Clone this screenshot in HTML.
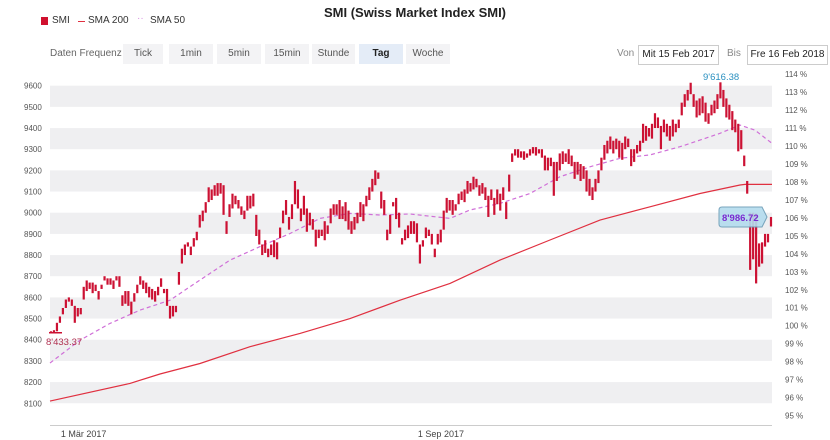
<!DOCTYPE html>
<html><head><meta charset="utf-8">
<style>
body{margin:0;width:830px;height:440px;background:#fff;font-family:"Liberation Sans",sans-serif;overflow:hidden;position:relative}
.t{position:absolute;white-space:nowrap}
.btn{position:absolute;top:44px;height:20px;line-height:20px;background:#f3f3f5;color:#555;font-size:10px;text-align:center}
.box{position:absolute;top:45px;height:18px;line-height:18px;border:1px solid #ccc;font-size:10px;color:#222;text-align:center;background:#fff}
</style></head><body>
<div class="t" style="left:0;width:830px;text-align:center;top:5px;font-size:13px;font-weight:bold;color:#222">SMI (Swiss Market Index SMI)</div>
<div style="position:absolute;left:0;top:0;width:200px;height:30px">
<div style="position:absolute;left:41px;top:17px;width:7px;height:8px;background:#d0102e"></div>
<div class="t" style="left:52px;top:15px;font-size:10px;color:#333">SMI</div>
<div style="position:absolute;left:78px;top:21px;width:7px;height:1px;background:#e03040"></div>
<div class="t" style="left:88px;top:15px;font-size:10px;color:#333">SMA 200</div>
<div class="t" style="left:137px;top:13px;font-size:10px;color:#d890e0">··</div>
<div class="t" style="left:150px;top:15px;font-size:10px;color:#333">SMA 50</div>
</div>
<div class="t" style="left:50px;top:48px;font-size:10px;color:#666">Daten Frequenz</div>
<div class="btn" style="left:123px;width:40px">Tick</div>
<div class="btn" style="left:169px;width:44px">1min</div>
<div class="btn" style="left:217px;width:44px">5min</div>
<div class="btn" style="left:265px;width:44px">15min</div>
<div class="btn" style="left:312px;width:43px">Stunde</div>
<div class="btn" style="left:359px;width:44px;background:#e4ecf7;color:#222;font-weight:bold">Tag</div>
<div class="btn" style="left:406px;width:44px">Woche</div>
<div class="t" style="left:617px;top:48px;font-size:10px;color:#888">Von</div>
<div class="box" style="left:638px;width:79px">Mit 15 Feb 2017</div>
<div class="t" style="left:727px;top:48px;font-size:10px;color:#888">Bis</div>
<div class="box" style="left:747px;width:79px">Fre 16 Feb 2018</div>
<svg id="c" width="830" height="440" style="position:absolute;left:0;top:0" xmlns="http://www.w3.org/2000/svg"></svg>
<script>
const leftTicks=[8100,8200,8300,8400,8500,8600,8700,8800,8900,9000,9100,9200,9300,9400,9500,9600];
const pctTicks=[95,96,97,98,99,100,101,102,103,104,105,106,107,108,109,110,111,112,113,114];
const xLabels=["1 Mär 2017","1 Sep 2017"];
const xLabelIdx=[4,124];
const lows=[8433,8433,8440,8480,8520,8550,8580,8560,8480,8510,8520,8590,8630,8640,8620,8630,8590,8640,8680,8660,8660,8640,8680,8650,8560,8570,8560,8520,8580,8620,8660,8640,8620,8600,8590,8580,8610,8650,8620,8560,8500,8510,8530,8660,8760,8800,8840,8800,8840,8870,8930,8960,9000,9050,9060,9080,9080,9090,8990,8900,8980,9020,9040,9020,8990,8970,9010,9020,9030,8890,8850,8800,8810,8790,8800,8790,8780,8880,8950,8990,8920,8970,9040,9020,8960,8990,8910,8940,8920,8840,8880,8890,8870,8900,8950,8990,8990,8970,8970,8960,8920,8900,8920,8950,8980,8960,9030,9060,9100,9130,9160,9020,8990,8870,8900,9030,8970,8930,8850,8870,8880,8900,
8900,8860,8760,8840,8880,8890,8850,8790,8850,8860,8920,9000,9010,8990,9010,9040,9060,9050,9090,9100,9110,9120,9080,9090,9060,8980,9060,8990,9040,9010,9060,8970,9100,9240,9270,9260,9260,9250,9260,9270,9280,9270,9280,9260,9200,9200,9220,9080,9150,9200,9230,9240,9230,9220,9160,9180,9150,9160,9100,9080,9060,9100,9140,9200,9250,9280,9300,9280,9300,9260,9250,9300,9310,9220,9240,9280,9290,9330,9340,9360,9350,9400,9400,9300,9380,9360,9340,9360,9380,9400,9460,9500,9530,9560,9500,9450,9460,9470,9430,9420,9460,9470,9490,9540,9500,9450,9440,9390,9380,9290,9300,9220,9090,8730,8780,8666,8745,8760,8840,8860,8935];
const highs=[8440,8445,8480,8510,8550,8590,8600,8590,8560,8550,8550,8650,8680,8670,8670,8660,8630,8660,8700,8690,8690,8680,8700,8700,8610,8630,8630,8580,8620,8660,8700,8680,8670,8650,8640,8630,8650,8690,8640,8640,8560,8560,8560,8720,8830,8850,8860,8840,8880,8910,8990,9010,9050,9120,9110,9130,9140,9140,9130,8960,9040,9090,9080,9060,9030,9010,9080,9080,9090,8990,8920,8850,8870,8830,8850,8870,8860,8930,9010,9060,8980,9040,9150,9110,9020,9080,9020,9000,8970,8920,8920,8920,8960,8940,9020,9040,9040,9060,9030,9050,9010,8960,8980,9000,9050,9040,9080,9120,9160,9200,9190,9100,9060,8920,8990,9050,9070,9000,8880,8920,8940,8960,
8960,8950,8850,8870,8930,8920,8900,8830,8900,8920,9010,9070,9060,9060,9040,9090,9100,9110,9150,9140,9170,9160,9130,9140,9120,9080,9110,9070,9110,9090,9120,9050,9180,9280,9300,9300,9290,9290,9280,9300,9310,9310,9300,9300,9270,9260,9260,9240,9240,9280,9290,9280,9300,9270,9240,9240,9230,9220,9200,9160,9120,9160,9200,9260,9320,9340,9360,9340,9350,9340,9330,9360,9350,9300,9300,9320,9340,9420,9410,9400,9420,9470,9450,9410,9440,9420,9410,9440,9420,9440,9520,9560,9580,9614,9560,9530,9540,9550,9520,9470,9510,9530,9560,9616,9580,9540,9510,9480,9440,9420,9390,9270,9150,9000,9000,8996,8855,8860,8900,8900,8980];
const sma200X=[50,130,160,200,250,300,350,400,450,500,550,600,650,700,740,745,772];
const sma200=[8110,8194,8238,8288,8367,8430,8500,8587,8666,8776,8871,8965,9028,9091,9131,9134,9134];
const sma50X=[50,80,110,140,170,200,230,260,290,320,350,380,410,450,470,500,530,560,590,620,650,680,700,720,740,755,772];
const sma50=[8290,8398,8477,8540,8587,8682,8776,8840,8902,8973,8997,8989,8994,8973,9013,9044,9091,9170,9217,9257,9273,9312,9343,9375,9414,9390,9328];

const NS="http://www.w3.org/2000/svg",svg=document.getElementById('c');
const X0=50,X1=772,N=lows.length;
const y=v=>85.7+(9600-v)*0.2117;
const yp=p=>74+(114-p)*17.98;
const xi=i=>51+i*(720/(N-1));
function mk(t,a,p){const e=document.createElementNS(NS,t);for(const k in a)e.setAttribute(k,a[k]);(p||svg).appendChild(e);return e;}
for(let k=0;k<leftTicks.length-1;k+=2){
  const r=mk('rect',{x:X0,y:y(leftTicks[k+1]),width:X1-X0,height:y(leftTicks[k])-y(leftTicks[k+1]),fill:'#efeff1'});
  
  
}
leftTicks.forEach(v=>{const t=mk('text',{x:24,y:y(v)+3,'font-size':8,fill:'#555'});t.textContent=v;
  
  });
pctTicks.forEach(p=>{const t=mk('text',{x:785,y:yp(p)+3,'font-size':8,fill:'#555'});t.textContent=p+' %';
  
  });
const ax=mk('line',{x1:X0,x2:X1,y1:425.5,y2:425.5,stroke:'#ccc'});


xLabels.forEach((s,k)=>{const t=mk('text',{x:xi(xLabelIdx[k])-2,y:437,'font-size':9,fill:'#444'});t.textContent=s;
  
  });
function path(xs,vs){return xs.map((x,i)=>(i?'L':'M')+x+','+y(vs[i]).toFixed(1)).join('');}
const l2=mk('path',{d:path(sma200X,sma200),fill:'none',stroke:'#e03040','stroke-width':1.2});


const l5=mk('path',{d:path(sma50X,sma50),fill:'none',stroke:'#d070d8','stroke-width':1.2,'stroke-dasharray':'4,3'});


for(let i=0;i<N;i++){
  const b=mk('rect',{x:xi(i)-1.1,y:y(highs[i]),width:2.2,height:Math.max(2,y(lows[i])-y(highs[i])),fill:'#cc1133'});
  
  
}
const mlo=mk('line',{x1:49,x2:62,y1:y(8433),y2:y(8433),stroke:'#cc1133','stroke-width':1.5});


const tlo=mk('text',{x:46,y:y(8433)+12,'font-size':9.5,fill:'#b03050'});tlo.textContent="8'433.37";


const thi=mk('text',{x:703,y:80,'font-size':9.5,fill:'#2a90c0'});thi.textContent="9'616.38";


const bx=mk('path',{d:'M719,210 Q719,207 722,207 L762,207 L767,217 L762,227 L722,227 Q719,227 719,224 Z',fill:'#b4dcee',stroke:'#6a9bb5','stroke-width':1,opacity:0.9});


const tl=mk('text',{x:722,y:221,'font-size':9.5,'font-weight':'bold',fill:'#7a2ad0'});tl.textContent="8'986.72";


</script>
</body></html>
